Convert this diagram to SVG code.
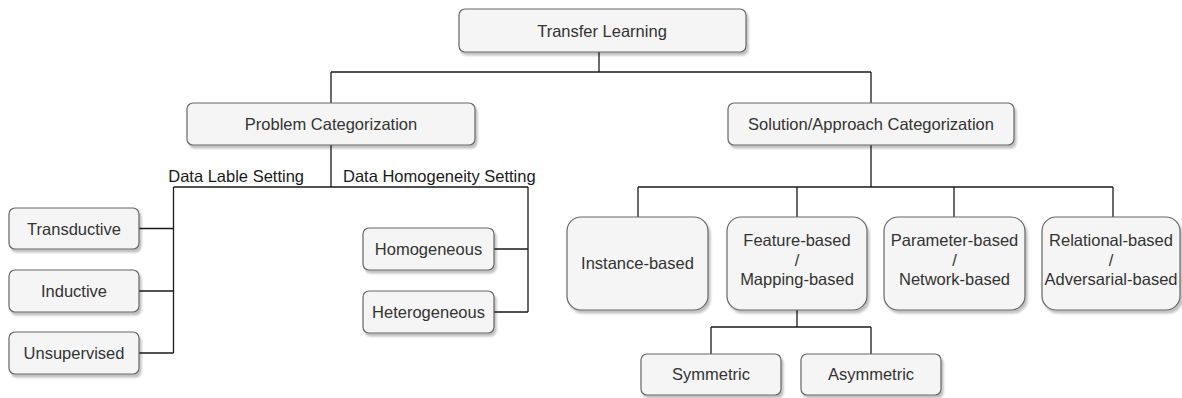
<svg xmlns="http://www.w3.org/2000/svg" width="1182" height="398" viewBox="0 0 1182 398">
<defs>
<filter id="sh" x="-10%" y="-10%" width="130%" height="140%">
<feDropShadow dx="2" dy="3" stdDeviation="1" flood-color="#000" flood-opacity="0.25"/>
</filter>
<style>
.n{fill:#f5f5f5;stroke:#666666;stroke-width:1.2;filter:url(#sh)}
.t{font-family:"Liberation Sans",Arial,sans-serif;font-size:16.5px;fill:#333333;text-anchor:middle}
.e{font-family:"Liberation Sans",Arial,sans-serif;font-size:16.5px;fill:#1a1a1a}
.c{fill:none;stroke:#1a1a1a;stroke-width:1.3}
</style>
</defs>
<rect width="1182" height="398" fill="#ffffff"/>
<g id="connectors">
<path class="c" d="M599 52 V72 M331 72 H871 M331 72 V103 M871 72 V103"/>
<path class="c" d="M331 145 V187 M173.5 187 H528 M173.5 187 V353 M139 228.5 H173.5 M139 291 H173.5 M139 353 H173.5"/>
<path class="c" d="M528 187 V312 M494 249 H528 M494 312 H528"/>
<path class="c" d="M871 145 V187 M638 187 H1113 M638 187 V217 M797 187 V217 M954 187 V217 M1113 187 V217"/>
<path class="c" d="M797 310 V327 M711 327 H871 M711 327 V354 M871 327 V354"/>
</g>
<g id="edge-labels">
<text class="e" x="304" y="182" text-anchor="end">Data Lable Setting</text>
<text class="e" x="343" y="182">Data Homogeneity Setting</text>
</g>
<g id="transfer-learning"><rect class="n" x="459" y="9" width="287" height="43" rx="6"/><text class="t" x="602" y="36.5">Transfer Learning</text></g>
<g id="problem-categorization"><rect class="n" x="187" y="103" width="288" height="42" rx="6"/><text class="t" x="331" y="130">Problem Categorization</text></g>
<g id="solution-categorization"><rect class="n" x="728" y="103" width="286" height="42" rx="6"/><text class="t" x="871" y="130">Solution/Approach Categorization</text></g>
<g id="transductive"><rect class="n" x="9" y="208" width="130" height="41" rx="6"/><text class="t" x="74" y="234.5">Transductive</text></g>
<g id="inductive"><rect class="n" x="9" y="270" width="130" height="42" rx="6"/><text class="t" x="74" y="297">Inductive</text></g>
<g id="unsupervised"><rect class="n" x="9" y="332" width="130" height="42" rx="6"/><text class="t" x="74" y="359">Unsupervised</text></g>
<g id="homogeneous"><rect class="n" x="363" y="228" width="131" height="42" rx="6"/><text class="t" x="428.5" y="255">Homogeneous</text></g>
<g id="heterogeneous"><rect class="n" x="363" y="291" width="131" height="42" rx="6"/><text class="t" x="428.5" y="318">Heterogeneous</text></g>
<g id="instance-based"><rect class="n" x="567" y="217" width="141" height="93" rx="14"/><text class="t" x="637.5" y="269">Instance-based</text></g>
<g id="feature-based"><rect class="n" x="727" y="217" width="140" height="93" rx="14"/><text class="t" x="797" y="246">Feature-based</text><text class="t" x="797" y="265.5">/</text><text class="t" x="797" y="285">Mapping-based</text></g>
<g id="parameter-based"><rect class="n" x="884" y="217" width="141" height="93" rx="14"/><text class="t" x="954.5" y="246">Parameter-based</text><text class="t" x="954.5" y="265.5">/</text><text class="t" x="954.5" y="285">Network-based</text></g>
<g id="relational-based"><rect class="n" x="1042" y="217" width="138" height="93" rx="14"/><text class="t" x="1111" y="246">Relational-based</text><text class="t" x="1111" y="265.5">/</text><text class="t" x="1111" y="285">Adversarial-based</text></g>
<g id="symmetric"><rect class="n" x="641" y="354" width="140" height="41" rx="6"/><text class="t" x="711" y="380">Symmetric</text></g>
<g id="asymmetric"><rect class="n" x="801" y="354" width="140" height="41" rx="6"/><text class="t" x="871" y="380">Asymmetric</text></g>
</svg>
